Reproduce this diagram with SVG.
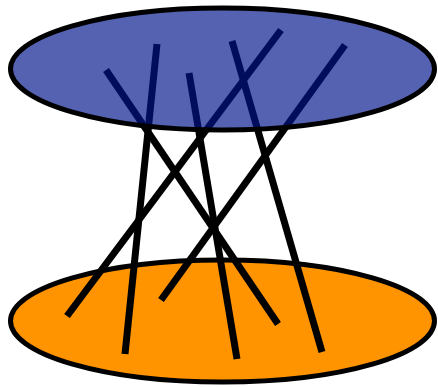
<svg xmlns="http://www.w3.org/2000/svg" width="438" height="387" viewBox="0 0 438 387">
<style>
.disk{stroke:#000;stroke-width:5}
.rod{stroke:#000;stroke-width:7;stroke-linecap:butt;fill:none}
</style>
<rect width="438" height="387" fill="#fff"/>
<g id="bottom-disk">
<ellipse class="disk" cx="222.5" cy="321" rx="212" ry="61" fill="#ff9300"/>
</g>
<g id="connectors">
<line class="rod" x1="106" y1="70" x2="278" y2="324"/>
<line class="rod" x1="157" y1="44" x2="125" y2="354"/>
<line class="rod" x1="189" y1="73" x2="237" y2="359"/>
<line class="rod" x1="281" y1="30" x2="67" y2="316"/>
<line class="rod" x1="232" y1="41" x2="322" y2="352"/>
<line class="rod" x1="345" y1="45" x2="161" y2="300"/>
</g>
<g id="top-disk">
<ellipse class="disk" cx="222.5" cy="69" rx="212" ry="61" fill="#00148c" fill-opacity="0.667"/>
</g>
</svg>
